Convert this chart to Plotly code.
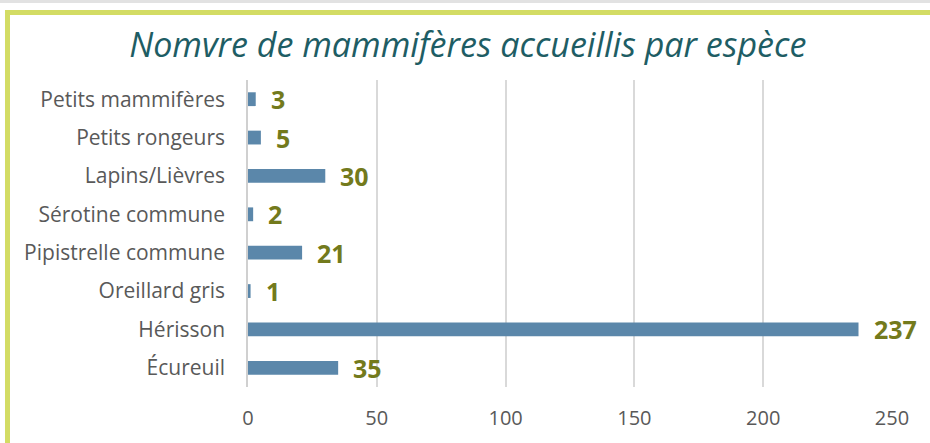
import plotly.graph_objects as go

categories = ["Petits mammifères", "Petits rongeurs", "Lapins/Lièvres", "Sérotine commune",
              "Pipistrelle commune", "Oreillard gris", "Hérisson", "Écureuil"]
values = [3, 5, 30, 2, 21, 1, 237, 35]
x_ticks = [0, 50, 100, 150, 200, 250]

BAR = "#5b87aa"
LABEL = "#737a1c"
FONT = "Open Sans"

W, H = 930, 443
L, R, T, B = 248, 38, 80, 56
PW, PH = W - L - R, H - T - B


def px(x):
    return (x - L) / PW


def py(y):
    return 1 - (y - T) / PH


fig = go.Figure()
fig.add_trace(go.Bar(
    x=values, y=categories, orientation="h",
    marker=dict(color=BAR, line=dict(width=0)),
    width=0.36, hoverinfo="skip",
))

for c, v in zip(categories, values):
    fig.add_annotation(x=v, y=c, xref="x", yref="y", text=f"<b>{v}</b>",
                       showarrow=False, xanchor="left", xshift=13, yshift=0,
                       font=dict(family=FONT, size=25, color=LABEL))

fig.update_layout(
    width=W, height=H,
    margin=dict(l=L, r=R, t=T, b=B),
    paper_bgcolor="white", plot_bgcolor="white",
    showlegend=False,
    title=dict(text="<i>Nomvre de mammifères accueillis par espèce</i>",
               x=0.503, xanchor="center", y=1 - 45 / H, yanchor="middle",
               font=dict(family=FONT, size=34, color="#1e5d64")),
    xaxis=dict(range=[0, 250], tickvals=x_ticks, showgrid=True, gridcolor="#d9d9d9",
               gridwidth=1.5, zeroline=False, showline=False, ticks="",
               tickfont=dict(family=FONT, size=20, color="#595959"), ticklabelstandoff=17),
    yaxis=dict(autorange="reversed", showgrid=False, showline=True, linecolor="#d0d0d0",
               linewidth=1.5, ticks="", ticklabelstandoff=17,
               tickfont=dict(family=FONT, size=21, color="#595959")),
    shapes=[
        dict(type="rect", xref="paper", yref="paper",
             x0=px(0), x1=px(W), y0=py(0), y1=py(3),
             fillcolor="#e2e2e2", line=dict(width=0)),
        dict(type="line", xref="paper", yref="paper",
             x0=px(5), x1=px(W), y0=py(12.5), y1=py(12.5),
             line=dict(color="#d3dc64", width=5)),
        dict(type="line", xref="paper", yref="paper",
             x0=px(7.5), x1=px(7.5), y0=py(10), y1=py(H),
             line=dict(color="#d3dc64", width=5)),
    ],
)

fig.write_html("out.html", config={"displayModeBar": False},
               post_script="document.body.style.margin='0';document.body.style.padding='0';")
